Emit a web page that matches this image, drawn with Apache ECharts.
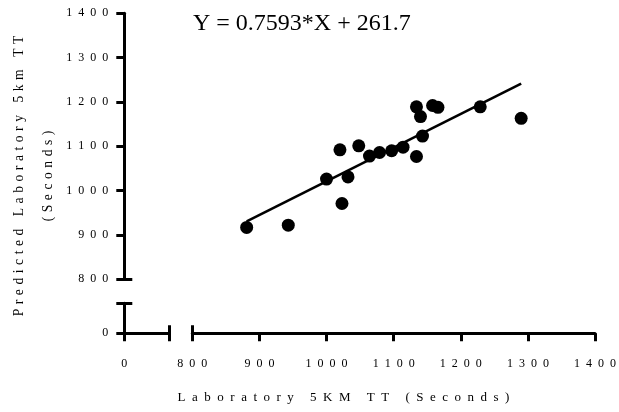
<!DOCTYPE html>
<html>
<head>
<meta charset="utf-8">
<script src="https://cdn.jsdelivr.net/npm/echarts@6/dist/echarts.min.js"></script>
<style>
  html, body { margin: 0; padding: 0; background: #fff; }
  #chart { width: 619px; height: 412px; }
</style>
</head>
<body>
<div id="chart"></div>
<script>
// Laboratory 5 km time trial (s) vs predicted time (s), one pair per runner
const lab5kmTT = [881, 943, 1000, 1020, 1023, 1032, 1048, 1064, 1079, 1097, 1114, 1134, 1134, 1140, 1143, 1158, 1166, 1229, 1290];
const predicted5kmTT = [917, 922, 1026, 1092, 971, 1031, 1101, 1078, 1086, 1090, 1098, 1077, 1189, 1167, 1123, 1192, 1188, 1189, 1163];

// Least-squares fit shown on the chart
const fitSlope = 0.7593;
const fitIntercept = 261.7;

// Axis ranges: a short segment holding 0, then a break, then 800..1400
const upperMin = 800;
const upperMax = 1400;
const upperStep = 100;
const lowerTickLabel = '0';

const xTitle = 'Laboratory 5KM TT (Seconds)';
const yTitleLines = ['Predicted Laboratory 5km TT', '(Seconds)'];

const FONT = '"Liberation Serif", "Times New Roman", serif';
const INK = '#000';
const AXIS_W = 3;
const TICK_LEN = 8;

// Wide letter spacing drawn with plain space characters
function spaced(text, gap) {
  return text.split(' ').map(w => w.split('').join(gap)).join(gap + ' ' + gap);
}
const digitLabel = v => spaced(String(v), '  ');

const points = lab5kmTT.map((x, i) => [x, predicted5kmTT[i]]);
const xLo = Math.min(...lab5kmTT);
const xHi = Math.max(...lab5kmTT);
const fitLine = [xLo, xHi].map(x => [x, fitSlope * x + fitIntercept]);

const lineStyle = { color: INK, width: AXIS_W };
const labelStyle = { color: INK, fontFamily: FONT, fontSize: 12 };

// Visible axis: line, outward ticks, labels
function mainAxis(extra) {
  return Object.assign({
    type: 'value',
    axisLine: { show: true, lineStyle },
    axisTick: { show: true, length: TICK_LEN, lineStyle },
    splitLine: { show: false },
    axisLabel: Object.assign({ formatter: digitLabel }, labelStyle)
  }, extra);
}
// Companion axis that only adds the inner half of a break cap
function capAxis(extra, capValue) {
  return Object.assign({
    type: 'value',
    axisLine: { show: false },
    axisTick: { show: true, inside: true, length: TICK_LEN, lineStyle, customValues: [capValue] },
    axisLabel: { show: false },
    splitLine: { show: false }
  }, extra);
}

const chart = echarts.init(document.getElementById('chart'), null, { renderer: 'canvas' });
chart.setOption({
  animation: false,
  backgroundColor: '#fff',
  grid: [
    { left: 192.3, top: 13.3, width: 403.4, height: 266 },
    { left: 124.3, top: 303.3, width: 45, height: 30 }
  ],
  xAxis: [
    mainAxis({ gridIndex: 0, position: 'bottom', offset: 54, min: upperMin, max: upperMax, interval: upperStep,
      axisLabel: Object.assign({ formatter: digitLabel, margin: 25 }, labelStyle) }),
    capAxis({ gridIndex: 0, position: 'bottom', offset: 54, min: upperMin, max: upperMax, interval: upperStep }, upperMin),
    mainAxis({ gridIndex: 1, position: 'bottom', min: 0, max: 1, interval: 1,
      axisLabel: Object.assign({ margin: 25, formatter: v => (v === 0 ? lowerTickLabel : '') }, labelStyle) }),
    capAxis({ gridIndex: 1, position: 'bottom', min: 0, max: 1, interval: 1 }, 1)
  ],
  yAxis: [
    mainAxis({ gridIndex: 0, position: 'left', offset: 68, min: upperMin, max: upperMax, interval: upperStep,
      axisLabel: Object.assign({ formatter: digitLabel, margin: 16 }, labelStyle) }),
    capAxis({ gridIndex: 0, position: 'left', offset: 68, min: upperMin, max: upperMax, interval: upperStep }, upperMin),
    mainAxis({ gridIndex: 1, position: 'left', min: 0, max: 1, interval: 1,
      axisLabel: Object.assign({ margin: 16, formatter: v => (v === 0 ? lowerTickLabel : '') }, labelStyle) }),
    capAxis({ gridIndex: 1, position: 'left', min: 0, max: 1, interval: 1 }, 1)
  ],
  series: [
    {
      type: 'line',
      xAxisIndex: 0, yAxisIndex: 0,
      data: fitLine,
      showSymbol: false,
      lineStyle: { color: INK, width: 2.6 },
      z: 2
    },
    {
      type: 'scatter',
      xAxisIndex: 0, yAxisIndex: 0,
      data: points,
      symbol: 'circle',
      symbolSize: 13,
      itemStyle: { color: INK, opacity: 1 },
      z: 3
    }
  ],
  graphic: [
    {
      type: 'text', x: 193, y: 24,
      style: { text: 'Y = ' + fitSlope + '*X + ' + fitIntercept, fill: INK, font: '24px ' + FONT, align: 'left', verticalAlign: 'middle' }
    },
    {
      type: 'text', x: 343.5, y: 398,
      style: { text: spaced(xTitle, '  '), fill: INK, font: '13px ' + FONT, align: 'center', verticalAlign: 'middle' }
    },
    {
      type: 'text', x: 19, y: 176, rotation: Math.PI / 2,
      style: { text: spaced(yTitleLines[0], '\u2004'), fill: INK, font: '13.6px ' + FONT, align: 'center', verticalAlign: 'middle' }
    },
    {
      type: 'text', x: 48, y: 176, rotation: Math.PI / 2,
      style: { text: spaced(yTitleLines[1], '\u2004'), fill: INK, font: '13.6px ' + FONT, align: 'center', verticalAlign: 'middle' }
    }
  ]
});
</script>
</body>
</html>
